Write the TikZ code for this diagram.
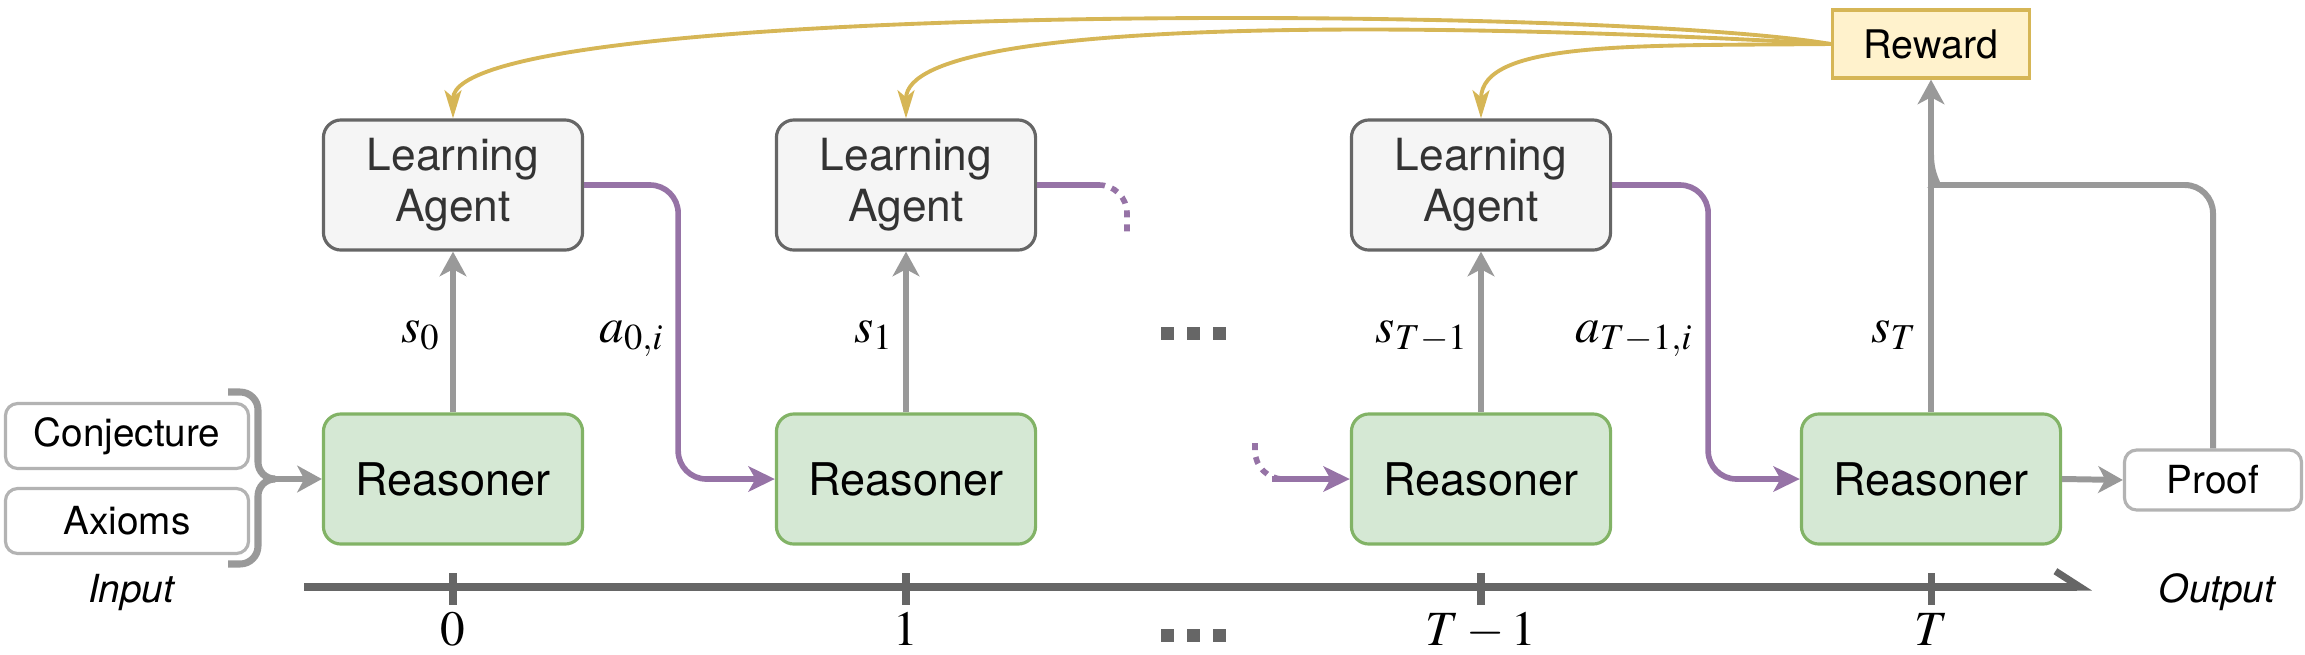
\documentclass[tikz,border=0pt]{standalone}
\usepackage[no-math]{fontspec}
\usepackage{mathptmx}
\newfontfamily\hv{TeX Gyre Heros}
\usetikzlibrary{arrows.meta}
\definecolor{lafill}{HTML}{F5F5F5}
\definecolor{laedge}{HTML}{666666}
\definecolor{latext}{HTML}{333333}
\definecolor{rsfill}{HTML}{D5E8D4}
\definecolor{rsedge}{HTML}{82B366}
\definecolor{rwfill}{HTML}{FFF2CC}
\definecolor{rwedge}{HTML}{D6B656}
\definecolor{purp}{HTML}{9673A6}
\definecolor{garr}{HTML}{999999}
\definecolor{inedge}{HTML}{B3B3B3}
\definecolor{tlc}{HTML}{666666}
\tikzset{
  la/.style={draw=laedge, fill=lafill, line width=0.9pt, rounded corners=5pt,
    minimum width=2.59cm, minimum height=1.30cm, align=center, text=latext,
    inner sep=0pt, font=\hv\fontsize{12.6}{14.5}\selectfont},
  rs/.style={draw=rsedge, fill=rsfill, line width=0.9pt, rounded corners=5pt,
    minimum width=2.59cm, minimum height=1.30cm, align=center, text=black,
    inner sep=0pt, font=\hv\fontsize{12.8}{15}\selectfont},
  inbox/.style={draw=inedge, fill=white, line width=0.9pt, rounded corners=3.5pt,
    minimum width=2.43cm, minimum height=0.65cm, inner sep=0pt,
    font=\hv\fontsize{11}{13}\selectfont},
  rw/.style={draw=rwedge, fill=rwfill, line width=0.9pt,
    minimum width=1.97cm, minimum height=0.68cm, inner sep=0pt,
    font=\hv\fontsize{11.2}{13}\selectfont},
  gline/.style={draw=garr, line width=1.7pt},
  garrow/.style={gline, -{Stealth[length=7pt, width=7.6pt, inset=2pt]}},
  pline/.style={draw=purp, line width=1.6pt},
  parrow/.style={pline, -{Stealth[length=7.5pt, width=7.2pt, inset=2pt]}},
  dotpat/.style={dash pattern=on 2pt off 2pt},
  goldarrow/.style={draw=rwedge, line width=1.1pt, -{Stealth[length=8pt, width=4.8pt, inset=2pt]}},
  tline/.style={draw=tlc, line width=2pt},
  tick/.style={draw=tlc, line width=2pt},
  mlbl/.style={inner sep=0pt, font=\fontsize{14}{16}\selectfont},
  itlbl/.style={inner sep=0pt, font=\hv\itshape\fontsize{11}{13}\selectfont},
  dotsq/.style={fill=tlc},
}
\begin{document}
\begin{tikzpicture}[x=0.01cm, y=-0.01cm]
\useasboundingbox (0,0) rectangle (2305,654);

\node[rw] (reward) at (1931,44) {Reward};

% main nodes
\node[la] (la1) at (453,185) {Learning\\Agent};
\node[la] (la2) at (906,185) {Learning\\Agent};
\node[la] (la3) at (1481,185) {Learning\\Agent};
\node[rs] (r1) at (453,479) {Reasoner};
\node[rs] (r2) at (906,479) {Reasoner};
\node[rs] (r3) at (1481,479) {Reasoner};
\node[rs] (r4) at (1931,479) {Reasoner};
\node[inbox] (conj) at (127,436) {Conjecture};
\node[inbox] (ax) at (127,521) {Axioms};
\node[inbox, minimum width=1.77cm, minimum height=0.60cm] (proof) at (2213,480) {Proof};

\draw[goldarrow] (reward.west) .. controls (1600,5) and (453,0) .. (la1.north);
\draw[goldarrow] (reward.west) .. controls (1500,25) and (906,10) .. (la2.north);
\draw[goldarrow] (reward.west) .. controls (1640,46) and (1481,40) .. (la3.north);

% brace
\coordinate (btip) at (275,479);
\draw[gline, line width=2pt] (228,392) -- (240,392) to[out=0,in=90] (258,410) -- (258,462) to[out=-90,in=180] (btip);
\draw[gline, line width=2pt] (228,564) -- (240,564) to[out=0,in=-90] (258,546) -- (258,496) to[out=90,in=180] (btip);
\draw[garrow] (btip) -- (r1.west);

% states
\draw[garrow] (r1.north) -- (la1.south);
\draw[garrow] (r2.north) -- (la2.south);
\draw[garrow] (r3.north) -- (la3.south);
\draw[garrow] (r4.north) -- (reward.south);
\draw[garrow] (r4.east) -- (proof.west);
\draw[gline, rounded corners=8pt] (proof.north) |- (1965,185) .. controls (1940,185) and (1931,176) .. (1931,155);

% actions
\draw[parrow, rounded corners=8pt] (la1.east) -- ++(94,0) |- (r2.west);
\draw[parrow, rounded corners=8pt] (la3.east) -- ++(96,0) |- (r4.west);
\coordinate (p2a) at (1098,185);
\coordinate (p2b) at (1127,232);
\draw[pline] (la2.east) -- (p2a);
\draw[pline, dotpat, rounded corners=8pt] (p2a) -| (p2b);
\coordinate (p3a) at (1255,443);
\coordinate (p3b) at (1272,479);
\draw[pline, dotpat, rounded corners=8pt] (p3a) |- (p3b);
\draw[parrow] (p3b) -- (r3.west);

% labels
\node[mlbl, anchor=base east] (ls0) at (441,342) {$s_0$};
\node[mlbl, anchor=base east] (la0) at (665,342) {$a_{0,i}$};
\node[mlbl, anchor=base east] (ls1) at (894,342) {$s_1$};
\node[mlbl, anchor=base east] (lsT1) at (1469,342) {$s_{T-1}$};
\node[mlbl, anchor=base east] (laT1) at (1694,342) {$a_{T-1,i}$};
\node[mlbl, anchor=base east] (lsT) at (1918,342) {$s_T$};

% ellipses
\foreach \x in {1167,1193,1219} {
  \fill[dotsq] (\x-6.5,326.5) rectangle ++(13,13);
  \fill[dotsq] (\x-6.5,628.5) rectangle ++(13,13);
}

% timeline
\coordinate (tl0) at (304,587);
\coordinate (tl1) at (2092,587);
\draw[tline, -{Straight Barb[left, length=7pt, width=9pt]}] (tl0) -- (tl1);
\draw[tick] (453,573) -- (453,605);
\draw[tick] (906,573) -- (906,605);
\draw[tick] (1481,573) -- (1481,605);
\draw[tick] (1931,573) -- (1931,605);
\node[mlbl, anchor=base] (t0) at (453,645) {$0$};
\node[mlbl, anchor=base] (t1) at (906,645) {$1$};
\node[mlbl, anchor=base] (tT1) at (1481,645) {$T-1$};
\node[mlbl, anchor=base] (tT) at (1931,645) {$T$};

\node[itlbl, anchor=base] (inp) at (131,602) {Input};
\node[itlbl, anchor=base] (outp) at (2217,602) {Output};
\end{tikzpicture}
\end{document}
